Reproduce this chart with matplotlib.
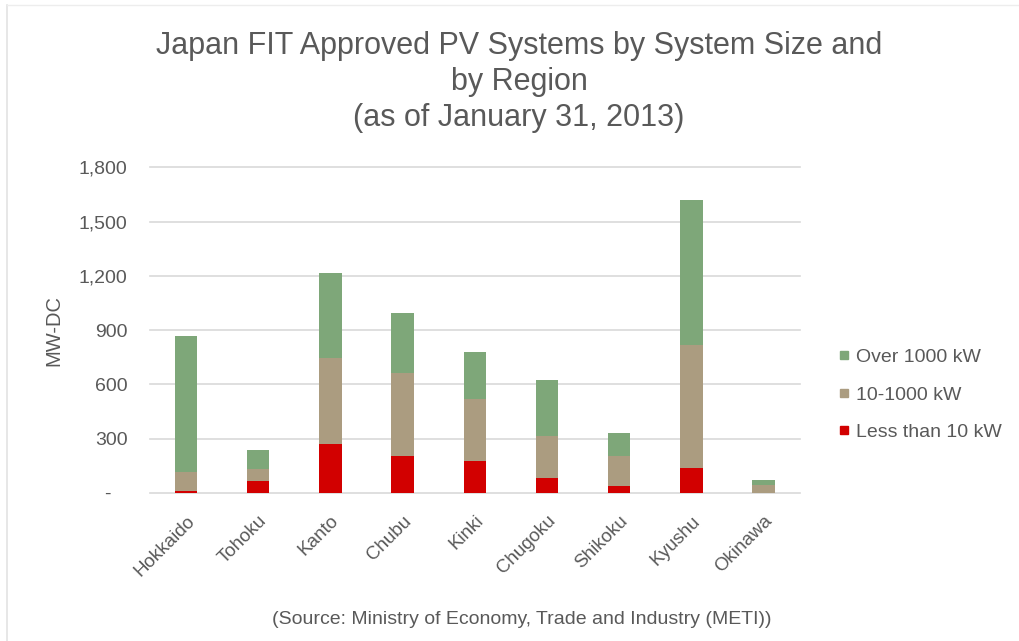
import matplotlib.pyplot as plt
from matplotlib.lines import Line2D
import numpy as np

regions = ["Hokkaido", "Tohoku", "Kanto", "Chubu", "Kinki",
           "Chugoku", "Shikoku", "Kyushu", "Okinawa"]
less_than_10kw = [11, 68, 269, 203, 175, 81, 39, 138, 2]
kw_10_to_1000 = [105, 63, 478, 459, 344, 236, 165, 677, 41]
over_1000kw = [753, 105, 467, 332, 258, 307, 129, 805, 31]

y_ticks = [0, 300, 600, 900, 1200, 1500, 1800]
y_tick_labels = ["-   ", "300", "600", "900", "1,200", "1,500", "1,800"]

plt.rcParams['font.family'] = ['Liberation Sans', 'DejaVu Sans']
text_gray = '#595959'

fig = plt.figure(figsize=(10.2, 6.41), dpi=100)
ax = fig.add_axes([0.147, 0.231, 0.637, 0.508])

x = np.arange(len(regions))
w = 0.31
c_red, c_tan, c_green = '#d20000', '#ab9c80', '#7ea779'
b1 = ax.bar(x, less_than_10kw, w, color=c_red, label='Less than 10 kW', zorder=3)
bottom2 = np.array(less_than_10kw)
b2 = ax.bar(x, kw_10_to_1000, w, bottom=bottom2, color=c_tan, label='10-1000 kW', zorder=3)
bottom3 = bottom2 + np.array(kw_10_to_1000)
b3 = ax.bar(x, over_1000kw, w, bottom=bottom3, color=c_green, label='Over 1000 kW', zorder=3)

ax.set_xlim(-0.5, len(regions) - 0.5)
ax.set_ylim(0, 1800)
ax.set_yticks(y_ticks)
ax.set_yticklabels(y_tick_labels, fontsize=14, color=text_gray)
ax.set_xticks(x)
ax.set_xticklabels(regions, rotation=45, ha='right', rotation_mode='anchor',
                   fontsize=13.5, color=text_gray)
ax.tick_params(axis='x', length=0, pad=14)
ax.tick_params(axis='y', length=0, pad=16)
ax.grid(axis='y', color='#d9d9d9', linewidth=1.2, zorder=0)
for s in ax.spines.values():
    s.set_visible(False)
for gl in ax.get_ygridlines():
    gl.set_clip_on(False)

ax.set_ylabel('MW-DC', fontsize=14.5, color=text_gray, labelpad=11)

# square legend keys
legend_items = [(b3.get_label(), c_green), (b2.get_label(), c_tan), (b1.get_label(), c_red)]
handles = [Line2D([], [], linestyle='none', marker='s', markersize=5.2,
                  markerfacecolor=c, markeredgecolor=c) for _, c in legend_items]
leg = fig.legend(handles, [lbl for lbl, _ in legend_items], loc='center left',
                 bbox_to_anchor=(0.806, 0.384), frameon=False, fontsize=14,
                 handlelength=0.5, handletextpad=0.35, labelspacing=1.03)
for t in leg.get_texts():
    t.set_color(text_gray)

fig.text(0.509, 0.872, "Japan FIT Approved PV Systems by System Size and\nby Region\n(as of January 31, 2013)",
         ha='center', va='center', fontsize=22, color=text_gray, linespacing=1.26)

fig.text(0.512, 0.033, "(Source: Ministry of Economy, Trade and Industry (METI))",
         ha='center', va='center', fontsize=14, color=text_gray)

# thin frame along the left and top edges
fig.add_artist(Line2D([7 / 1020, 7 / 1020], [0, 1 - 5 / 641], transform=fig.transFigure,
                      color='#e3e3e3', linewidth=1.2))
fig.add_artist(Line2D([7 / 1020, 1], [1 - 5 / 641, 1 - 5 / 641], transform=fig.transFigure,
                      color='#ededed', linewidth=1.0))

fig.savefig('out.png', dpi=100, facecolor='white')
